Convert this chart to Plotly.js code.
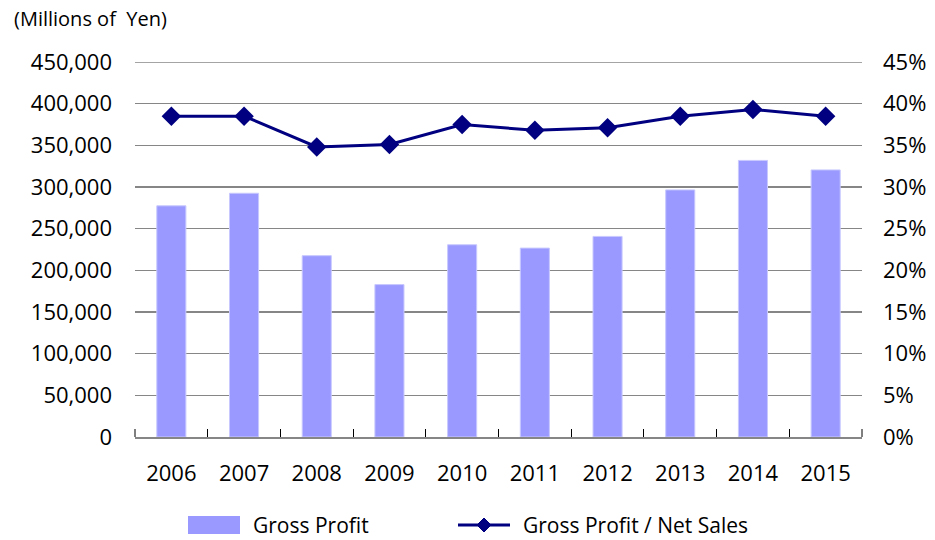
<!DOCTYPE html>
<html>
<head>
<meta charset="utf-8">
<script src="https://cdn.plot.ly/plotly-3.0.1.min.js"></script>
<style>html,body{margin:0;padding:0;background:#fff;}#chart{width:935px;height:540px;}</style>
</head>
<body>
<div id="chart"></div>
<script>
var years = ["2006","2007","2008","2009","2010","2011","2012","2013","2014","2015"];
var grossProfit = [277400, 292500, 217600, 182900, 230700, 226700, 240700, 296500, 331900, 320500];
var grossMargin = [38.5, 38.5, 34.8, 35.1, 37.5, 36.8, 37.1, 38.5, 39.3, 38.5];
var leftTicks = [0, 50000, 100000, 150000, 200000, 250000, 300000, 350000, 400000, 450000];
var rightTicks = [0, 5, 10, 15, 20, 25, 30, 35, 40, 45];
var rightTickText = rightTicks.map(function (v) { return v + "%"; });
var seriesNames = ["Gross Profit", "Gross Profit / Net Sales"];

var fam = "'Open Sans', 'DejaVu Sans', sans-serif";
var font = {family: fam, size: 22, color: "#000"};
var legendFont = {family: fam, size: 21, color: "#000"};
var barColor = "#9999FF";
var lineColor = "#000080";
var gridColor = "#868686";

var traces = [
  {
    type: "bar", name: seriesNames[0], x: years, y: grossProfit,
    marker: {color: barColor, line: {color: "#C8C8FF", width: 1}},
    yaxis: "y", showlegend: false
  },
  {
    type: "scatter", mode: "lines+markers", name: seriesNames[1],
    x: years, y: grossMargin, yaxis: "y2", showlegend: false,
    line: {color: lineColor, width: 3},
    marker: {symbol: "diamond", size: 15, color: lineColor}
  }
];

// Legend drawn in paper coordinates (plot area: x 135..862, y 62..437)
var W = 727, H = 375;
function px(x) { return (x - 135) / W; }
function py(y) { return (437 - y) / H; }
var ly = 525;
var dx = 7 / W, dy = 7 / H;
var dcx = px(484), dcy = py(ly);
var topTick = leftTicks[leftTicks.length - 1];

var layout = {
  width: 935, height: 540,
  margin: {l: 135, r: 73, t: 62, b: 103},
  paper_bgcolor: "#fff", plot_bgcolor: "#fff",
  font: font,
  bargap: 0.6,
  showlegend: false,
  xaxis: {
    type: "category", range: [-0.5, 9.5], tickson: "boundaries", ticks: "inside", ticklen: 8,
    tickcolor: "#000", showline: true, linecolor: gridColor, linewidth: 2,
    showgrid: false, ticklabelstandoff: 16, tickfont: font, fixedrange: true,
    automargin: false
  },
  yaxis: {
    range: [0, 450000], tickvals: leftTicks, tickformat: ",",
    showgrid: true, gridcolor: gridColor, gridwidth: 1.5,
    zeroline: false, showline: false, ticks: "", ticklabelstandoff: 22,
    tickfont: font, fixedrange: true, automargin: false
  },
  yaxis2: {
    overlaying: "y", side: "right", range: [0, 45], tickvals: rightTicks,
    ticktext: rightTickText, tickmode: "array",
    showgrid: false, zeroline: false, showline: false,
    ticks: "", ticklabelstandoff: 20, tickfont: font, fixedrange: true,
    automargin: false
  },
  shapes: [
    {type: "line", xref: "paper", yref: "y", x0: 0, x1: 1, y0: topTick, y1: topTick,
     line: {color: gridColor, width: 1.5}, layer: "below"},
    {type: "line", xref: "paper", yref: "paper", x0: 0, x1: 0, y0: 0, y1: 8 / H,
     line: {color: "#000", width: 1}},
    {type: "line", xref: "paper", yref: "paper", x0: 1, x1: 1, y0: 0, y1: 8 / H,
     line: {color: "#000", width: 1}},
    {type: "rect", xref: "paper", yref: "paper", x0: px(188), x1: px(240), y0: py(534), y1: py(516),
     fillcolor: barColor, line: {width: 0}},
    {type: "line", xref: "paper", yref: "paper", x0: px(458), x1: px(510), y0: py(ly), y1: py(ly),
     line: {color: lineColor, width: 3}},
    {type: "path", xref: "paper", yref: "paper",
     path: "M " + (dcx - dx) + " " + dcy + " L " + dcx + " " + (dcy + dy) + " L " + (dcx + dx) + " " + dcy +
           " L " + dcx + " " + (dcy - dy) + " Z",
     fillcolor: lineColor, line: {color: lineColor, width: 1}}
  ],
  annotations: [
    {text: "(Millions of&nbsp; Yen)", xref: "paper", yref: "paper",
     x: px(12), xanchor: "left", y: py(18), yanchor: "middle",
     showarrow: false, font: {family: fam, size: 20, color: "#000"}},
    {text: seriesNames[0], xref: "paper", yref: "paper", x: px(251), xanchor: "left",
     y: py(ly), yanchor: "middle", showarrow: false, font: legendFont},
    {text: seriesNames[1], xref: "paper", yref: "paper", x: px(521), xanchor: "left",
     y: py(ly), yanchor: "middle", showarrow: false, font: legendFont}
  ]
};

Plotly.newPlot("chart", traces, layout, {displayModeBar: false, staticPlot: true});
</script>
</body>
</html>
